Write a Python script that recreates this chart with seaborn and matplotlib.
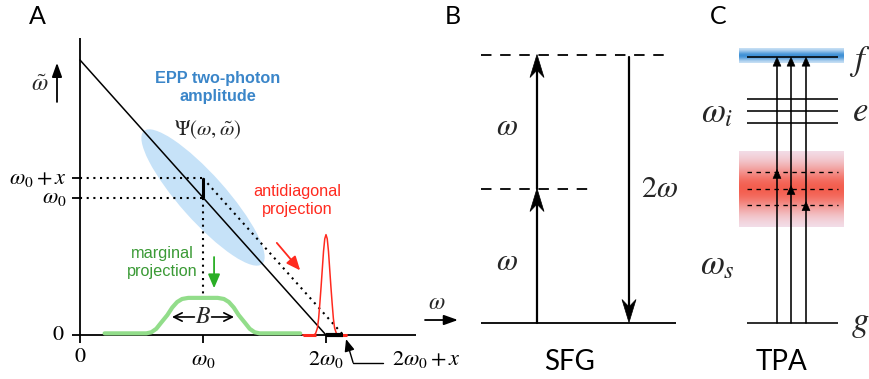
import numpy as np
import matplotlib
matplotlib.use("Agg")
import matplotlib.pyplot as plt
from matplotlib.patches import Ellipse, Polygon
from matplotlib.transforms import Affine2D
import seaborn as sns

# ---------------- panel A: two-photon amplitude (frequencies in units of w0) ----
x_shift = 0.14                                   # offset x of the shifted antidiagonal
diag_w = [0.0, 2.0]                              # w + w~ = 2 w0
diag_wt = [2.0, 0.0]

marginal_w = [0.20, 0.54, 0.58, 0.62, 0.66, 0.71, 0.75, 0.79, 0.83, 0.88, 1.00,
              1.12, 1.17, 1.21, 1.25, 1.29, 1.34, 1.38, 1.42, 1.46, 1.79]
marginal_amp = [0.012, 0.012, 0.02, 0.045, 0.09, 0.145, 0.20, 0.24, 0.262, 0.27, 0.27,
                0.27, 0.262, 0.24, 0.20, 0.145, 0.09, 0.045, 0.02, 0.012, 0.012]

antidiag_w = [1.81, 1.90, 1.915, 1.93, 1.94, 1.95, 1.96, 1.97, 1.98, 1.99, 2.00,
              2.01, 2.02, 2.03, 2.04, 2.05, 2.06, 2.07, 2.085, 2.10, 2.17]
antidiag_amp = [0, 0, 0.01, 0.05, 0.12, 0.23, 0.35, 0.48, 0.61, 0.70, 0.73,
                0.70, 0.61, 0.48, 0.35, 0.23, 0.12, 0.05, 0.01, 0, 0]

# ---------------- panel B: SFG levels (energy in units of w) ----------------------
sfg_levels = [0.0, 1.0, 2.0]

# ---------------- panel C: TPA levels (energy in units of w0) ---------------------
tpa_g = 0.0
tpa_f = 1.98
tpa_e = [1.49, 1.58, 1.67]
tpa_virtual = [1.12, 1.00, 0.88]

# ---------------- style -----------------------------------------------------------
sns.set_theme(style="white")
plt.rcParams["font.family"] = ["Liberation Sans", "DejaVu Sans"]
plt.rcParams["mathtext.fontset"] = "stix"

BLUE_TXT = "#3b86c9"
ELLIPSE = "#c6e2f8"
RED = "#ff2a1f"
GREEN_TXT = "#3a9a35"
GREEN_CURVE = "#92dd8a"
GREEN_ARROW = "#2aae25"

W, H = 870, 379
fig = plt.figure(figsize=(W / 100, H / 100), dpi=100)

# background axes for panels B and C: x in pixels, y in energy units
K = 134.0          # pixels per energy unit
Y0 = 322.5         # pixel row of zero energy
ax0 = fig.add_axes([0, 0, 1, 1])
ax0.set_xlim(0, W)
ax0.set_ylim((Y0 - H) / K, Y0 / K)
ax0.set_autoscale_on(False)
ax0.axis("off")

# panel A axes in units of w0
UX, UY = 123.0, 137.5
OX, OY = 80.0, 335.0
xa0, xa1, ya0, ya1 = -0.6, 3.0, -0.3, 2.4
left = OX + UX * xa0
bottom = H - (OY - UY * ya0)
axA = fig.add_axes([left / W, bottom / H, UX * (xa1 - xa0) / W, UY * (ya1 - ya0) / H])
axA.set_xlim(xa0, xa1)
axA.set_ylim(ya0, ya1)
axA.set_autoscale_on(False)
axA.axis("off")
axA.patch.set_alpha(0)

# ---- panel A drawing ----
cx, cy = axA.transData.transform((1.0, 1.0))
ell = Ellipse((0, 0), 178, 46, angle=-48.3, facecolor=ELLIPSE, edgecolor="none",
              transform=Affine2D().translate(cx, cy), zorder=0)
axA.add_patch(ell)

k_ax = dict(color="black", lw=1.3, solid_capstyle="butt", clip_on=False)
axA.plot([0, 0], [-0.055, 2.16], **k_ax)
axA.plot([-0.065, 2.73], [0, 0], **k_ax)
for yv in [1.0, 1.0 + x_shift]:
    axA.plot([-0.065, 0], [yv, yv], **k_ax)
for xv in [1.0, 2.0]:
    axA.plot([xv, xv], [-0.055, 0], **k_ax)

sns.lineplot(x=diag_w, y=diag_wt, ax=axA, color="black", lw=1.1, zorder=3)

dot = dict(color="black", lw=1.5, ls=(0, (1, 2.2)), dash_capstyle="butt", zorder=3)
axA.plot([1.0, 2.0 + x_shift], [1.0 + x_shift, 0], **dot)
axA.plot([0, 1.0], [1.0, 1.0], **dot)
axA.plot([0, 1.0], [1.0 + x_shift, 1.0 + x_shift], **dot)
axA.plot([1.0, 1.0], [1.0, 0.30], **dot)

axA.plot([1.0, 1.0], [1.0, 1.0 + x_shift], color="black", lw=2.2, solid_capstyle="butt", zorder=4)

sns.lineplot(x=marginal_w, y=marginal_amp, ax=axA, color=GREEN_CURVE, lw=3.0,
             zorder=2, estimator=None)
sns.lineplot(x=antidiag_w, y=antidiag_amp, ax=axA, color=RED, lw=1.1,
             zorder=4, estimator=None)
aw = np.array(antidiag_w)
aa = np.array(antidiag_amp)
flat_l = aw[:3][aa[:3] <= 0.01]
flat_r = aw[-3:][aa[-3:] <= 0.01]
axA.plot([flat_l.min(), flat_l.max()], [0, 0], color=RED, lw=2.2, solid_capstyle="butt", zorder=5)
axA.plot([flat_r.min(), flat_r.max()], [0, 0], color=RED, lw=2.2, solid_capstyle="butt", zorder=5)
axA.plot([2.0, 2.0 + x_shift], [0, 0], color="black", lw=3.0, solid_capstyle="butt", zorder=6)

# tick labels
tick_kw = dict(fontsize=16, color="black")
axA.text(0, -0.16, "0", ha="center", va="center", fontfamily="STIXGeneral", **tick_kw)
axA.text(1.0, -0.175, r"$\omega_0$", ha="center", va="center", **tick_kw)
axA.text(2.0, -0.175, r"$2\omega_0$", ha="center", va="center", **tick_kw)
axA.text(-0.105, 1.0 + x_shift, r"$\omega_0+x$", ha="right", va="center", **tick_kw)
axA.text(-0.105, 1.0, r"$\omega_0$", ha="right", va="center", **tick_kw)
axA.text(-0.135, 0.0, "0", ha="right", va="center", fontfamily="STIXGeneral", **tick_kw)
axA.text(2.54, -0.175, r"$2\omega_0+x$", ha="left", va="center", **tick_kw)
axA.plot([2.46, 2.22], [-0.2, -0.2], color="black", lw=1.0, clip_on=False)
axA.annotate("", xy=(2.163, -0.03), xytext=(2.22, -0.2), annotation_clip=False,
             arrowprops=dict(arrowstyle="-|>,head_length=0.6,head_width=0.25",
                             color="black", lw=1.0, shrinkA=0, shrinkB=0))

# axis names
axA.text(-0.325, 1.82, r"$\tilde{\omega}$", ha="center", va="center", fontsize=17)
axA.annotate("", xy=(-0.187, 1.98), xytext=(-0.187, 1.695), annotation_clip=False,
             arrowprops=dict(arrowstyle="-|>,head_length=0.7,head_width=0.25",
                             color="black", lw=1.3, shrinkA=0, shrinkB=0))
axA.text(2.90, 0.233, r"$\omega$", ha="center", va="center", fontsize=17)
axA.annotate("", xy=(3.073, 0.109), xytext=(2.805, 0.109), annotation_clip=False,
             arrowprops=dict(arrowstyle="-|>,head_length=0.7,head_width=0.25",
                             color="black", lw=1.3, shrinkA=0, shrinkB=0))

# annotations
axA.text(1.12, 1.80, "EPP two-photon\namplitude", ha="center", va="center",
         fontsize=11.7, fontweight="bold", color=BLUE_TXT, linespacing=1.3)
axA.text(1.04, 1.49, r"$\Psi(\omega,\tilde{\omega})$", ha="center", va="center", fontsize=15)
axA.text(1.764, 0.98, "antidiagonal\nprojection", ha="center", va="center",
         fontsize=11.7, color=RED, linespacing=1.25)
axA.annotate("", xy=(1.79, 0.47), xytext=(1.60, 0.67), annotation_clip=False,
             arrowprops=dict(arrowstyle="-|>,head_length=0.7,head_width=0.3",
                             color=RED, lw=1.3, shrinkA=0, shrinkB=0))
axA.text(0.667, 0.53, "marginal\nprojection", ha="center", va="center",
         fontsize=11.7, color=GREEN_TXT, linespacing=1.25)
axA.annotate("", xy=(1.09, 0.34), xytext=(1.09, 0.567), annotation_clip=False,
             arrowprops=dict(arrowstyle="-|>,head_length=0.7,head_width=0.3",
                             color=GREEN_ARROW, lw=1.3, shrinkA=0, shrinkB=0))
axA.text(1.0, 0.131, r"$B$", ha="center", va="center", fontsize=17)
for a, b in [(0.93, 0.748), (1.07, 1.252)]:
    axA.annotate("", xy=(b, 0.131), xytext=(a, 0.131), annotation_clip=False,
                 arrowprops=dict(arrowstyle="->,head_length=0.5,head_width=0.25",
                                 color="black", lw=1.2, shrinkA=0, shrinkB=0))


# ---- helpers for panels B and C ----
def stealth(ax, x, tip, up, length_px, width_px):
    L = length_px / K
    s = 1 if up else -1
    pts = [(x, tip), (x - width_px / 2, tip - s * L), (x, tip - s * 0.68 * L),
           (x + width_px / 2, tip - s * L)]
    ax.add_patch(Polygon(pts, closed=True, facecolor="black", edgecolor="black", lw=0.5, zorder=5))


def tri(ax, x, tip, length_px, width_px):
    L = length_px / K
    pts = [(x, tip), (x - width_px / 2, tip - L), (x + width_px / 2, tip - L)]
    ax.add_patch(Polygon(pts, closed=True, facecolor="black", edgecolor="black", lw=0.4, zorder=5))


# ---- panel B: SFG ----
g0, v1, v2 = sfg_levels
ax0.plot([481, 676], [g0, g0], color="black", lw=1.3, solid_capstyle="butt")
dash = dict(color="black", lw=1.3, ls=(0, (5.8, 4.8)), dash_capstyle="butt")
ax0.plot([481, 590], [v1, v1], **dash)
ax0.plot([481, 664], [v2, v2], **dash)
xb_up, xb_dn = 537, 629
ax0.plot([xb_up, xb_up], [g0, v1 - 0.1], color="black", lw=1.6)
ax0.plot([xb_up, xb_up], [v1, v2 - 0.1], color="black", lw=1.6)
stealth(ax0, xb_up, v1, True, 23, 14)
stealth(ax0, xb_up, v2, True, 23, 14)
ax0.plot([xb_dn, xb_dn], [v2 - 0.02, g0 + 0.1], color="black", lw=1.6)
stealth(ax0, xb_dn, g0, False, 23, 14)
ax0.text(507, 1.459, r"$\omega$", ha="center", va="center", fontsize=22)
ax0.text(507, 0.451, r"$\omega$", ha="center", va="center", fontsize=22)
ax0.text(660, 0.996, r"$2\omega$", ha="center", va="center", fontsize=22)

# ---- panel C: TPA ----
red_top, red_bot = 1.28, 0.713
rows = 200
ey = np.linspace(red_top, red_bot, rows)
w = np.exp(-((ey - tpa_virtual[1]) / 0.18) ** 2)[:, None]
lav = np.array([0.95, 0.91, 0.96])
red = np.array([0.955, 0.37, 0.31])
img = lav * (1 - w) + red * w
img = np.repeat(img[:, None, :], 4, axis=1)
ax0.imshow(img, extent=(739, 844, red_bot, red_top), aspect="auto",
           interpolation="bilinear", zorder=0)

blue_top, blue_bot = 2.04, 1.935
by = np.linspace(blue_top, blue_bot, 60)
wb = np.exp(-((by - (blue_top + blue_bot) / 2) / 0.034) ** 2)[:, None]
pale = np.array([0.84, 0.91, 0.97])
deep = np.array([0.25, 0.57, 0.84])
bimg = pale * (1 - wb) + deep * wb
bimg = np.repeat(bimg[:, None, :], 4, axis=1)
ax0.imshow(bimg, extent=(739, 844, blue_bot, blue_top), aspect="auto",
           interpolation="bilinear", zorder=0)

lv = dict(color="black", lw=1.15, solid_capstyle="butt", zorder=3)
xl0, xl1 = 747, 838
ax0.plot([xl0, xl1], [tpa_f, tpa_f], **lv)
for e in tpa_e:
    ax0.plot([xl0, xl1], [e, e], **lv)
ax0.plot([xl0, xl1], [tpa_g, tpa_g], **lv)
for v in tpa_virtual:
    ax0.plot([xl0, xl1], [v, v], color="black", lw=0.95, ls=(0, (3.4, 3.4)),
             dash_capstyle="butt", zorder=3)
for xa, v in zip([777, 791, 806], tpa_virtual):
    ax0.plot([xa, xa], [tpa_g, tpa_f - 0.05], color="black", lw=1.15, zorder=4)
    tri(ax0, xa, v + 0.022, 9, 8)
    tri(ax0, xa, tpa_f, 9, 8)

lab = dict(ha="center", va="center", fontsize=25)
ax0.text(717, 1.563, r"$\omega_i$", **lab)
ax0.text(717, 0.429, r"$\omega_s$", **lab)
ax0.text(860, 1.575, r"$e$", **lab)
ax0.text(860, 1.951, r"$f$", **lab)
ax0.text(860, -0.004, r"$g$", **lab)

# panel titles and letters
cap = dict(ha="center", va="center", fontfamily=["Lato", "DejaVu Sans"], color="black")
ax0.text(570, -0.295, "SFG", fontsize=20, **cap)
ax0.text(782, -0.295, "TPA", fontsize=20, **cap)
ax0.text(37, 2.287, "A", fontsize=18, **cap)
ax0.text(453, 2.287, "B", fontsize=18, **cap)
ax0.text(718, 2.287, "C", fontsize=18, **cap)

fig.savefig("out.png", dpi=100)
